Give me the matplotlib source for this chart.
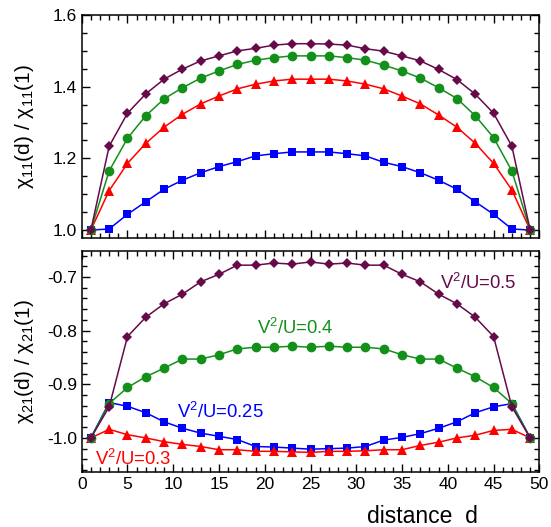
import matplotlib
matplotlib.use("Agg")
import matplotlib.pyplot as plt
from matplotlib.ticker import MultipleLocator

plt.rcParams['font.family'] = ['Liberation Sans', 'DejaVu Sans']
plt.rcParams['mathtext.fontset'] = 'custom'
plt.rcParams['mathtext.rm'] = 'Liberation Sans'
plt.rcParams['mathtext.it'] = 'Liberation Sans:italic'
plt.rcParams['mathtext.default'] = 'regular'

# data
# ----
d = [1, 3, 5, 7, 9, 11, 13, 15, 17, 19, 21, 23, 25,
     27, 29, 31, 33, 35, 37, 39, 41, 43, 45, 47, 49]

# chi_11(d)/chi_11(1)
top_05 = [1.0, 1.234, 1.326, 1.380, 1.421, 1.449, 1.472, 1.486, 1.500, 1.507, 1.516, 1.520, 1.520,
          1.519, 1.516, 1.506, 1.499, 1.486, 1.472, 1.448, 1.420, 1.379, 1.326, 1.234, 1.0]
top_04 = [1.0, 1.165, 1.256, 1.319, 1.366, 1.397, 1.424, 1.444, 1.462, 1.474, 1.481, 1.486, 1.486,
          1.486, 1.481, 1.474, 1.460, 1.444, 1.424, 1.397, 1.367, 1.319, 1.258, 1.165, 1.0]
top_03 = [1.0, 1.110, 1.186, 1.242, 1.287, 1.323, 1.352, 1.374, 1.394, 1.407, 1.416, 1.421, 1.421,
          1.421, 1.416, 1.407, 1.394, 1.374, 1.352, 1.321, 1.287, 1.242, 1.186, 1.112, 1.0]
top_025 = [1.0, 1.003, 1.044, 1.079, 1.114, 1.139, 1.160, 1.177, 1.191, 1.207, 1.213, 1.218, 1.218,
           1.218, 1.213, 1.207, 1.189, 1.177, 1.160, 1.139, 1.114, 1.079, 1.044, 1.003, 1.0]

# chi_21(d)/chi_21(1)
bot_05 = [-1.0, -0.942, -0.811, -0.775, -0.750, -0.732, -0.709, -0.695, -0.678, -0.678, -0.674, -0.676, -0.672,
          -0.676, -0.674, -0.678, -0.678, -0.695, -0.709, -0.732, -0.750, -0.775, -0.811, -0.942, -1.0]
bot_04 = [-1.0, -0.936, -0.906, -0.886, -0.870, -0.853, -0.853, -0.845, -0.834, -0.831, -0.831, -0.829, -0.831,
          -0.829, -0.831, -0.831, -0.834, -0.845, -0.853, -0.853, -0.870, -0.886, -0.906, -0.936, -1.0]
bot_03 = [-1.0, -0.984, -0.994, -1.000, -1.007, -1.012, -1.016, -1.022, -1.022, -1.025, -1.025, -1.026, -1.027,
          -1.025, -1.025, -1.024, -1.022, -1.022, -1.014, -1.008, -1.000, -0.995, -0.986, -0.984, -1.0]
bot_025 = [-1.0, -0.934, -0.941, -0.953, -0.970, -0.982, -0.991, -0.997, -1.003, -1.016, -1.017, -1.019, -1.021,
           -1.020, -1.019, -1.016, -1.004, -0.999, -0.992, -0.982, -0.970, -0.953, -0.942, -0.936, -1.0]

purple = '#660a4a'
green = '#12901a'
red = '#ff0000'
blue = '#0000ff'

# plot
# ----
fig = plt.figure(figsize=(5.51, 5.27), dpi=100)
ax1 = fig.add_axes([0.1483, 0.5478, 0.8305, 0.4237])
ax2 = fig.add_axes([0.1483, 0.1049, 0.8305, 0.4194])

series_top = [(top_025, blue, 's', 6), (top_03, red, '^', 6.5), (top_04, green, 'o', 7), (top_05, purple, 'D', 5.5)]
series_bot = [(bot_025, blue, 's', 6), (bot_03, red, '^', 6.5), (bot_04, green, 'o', 7), (bot_05, purple, 'D', 5.5)]

for ax, series in [(ax1, series_top), (ax2, series_bot)]:
    for vals, c, m, ms in series:
        ax.plot(d, vals, color=c, marker=m, markersize=ms, linewidth=1.1, markeredgewidth=0)
    ax.set_xlim(0, 50)
    ax.xaxis.set_major_locator(MultipleLocator(5))
    ax.xaxis.set_minor_locator(MultipleLocator(1))
    ax.tick_params(which='both', direction='in', top=True, right=True, labelsize=12.5)
    ax.tick_params(which='major', length=6, width=1)
    ax.tick_params(which='minor', length=3.5, width=1)
    for s in ax.spines.values():
        s.set_linewidth(1.1)

ax1.set_ylim(0.977, 1.6)
ax1.yaxis.set_major_locator(MultipleLocator(0.2))
ax1.yaxis.set_minor_locator(MultipleLocator(0.05))
ax1.yaxis.set_major_formatter(matplotlib.ticker.FormatStrFormatter('%.1f'))
ax1.tick_params(labelbottom=False)
ax1.set_ylabel('χ$_{11}$(d) / χ$_{11}$(1)', fontsize=15)

ax2.set_ylim(-1.063, -0.651)
ax2.yaxis.set_major_locator(MultipleLocator(0.1))
ax2.yaxis.set_minor_locator(MultipleLocator(0.02))
ax2.yaxis.set_major_formatter(matplotlib.ticker.FormatStrFormatter('%.1f'))
ax2.set_ylabel('χ$_{21}$(d) / χ$_{21}$(1)', fontsize=15)

ax1.yaxis.set_label_coords(-0.1, 0.5)
ax2.yaxis.set_label_coords(-0.1, 0.5)

ax2.text(39.2, -0.722, 'V$^2$/U=0.5', color=purple, fontsize=13.3)
ax2.text(19.1, -0.806, 'V$^2$/U=0.4', color=green, fontsize=13.3)
ax2.text(10.4, -0.9625, 'V$^2$/U=0.25', color=blue, fontsize=13.3)
ax2.text(1.45, -1.050, 'V$^2$/U=0.3', color=red, fontsize=13.3)

fig.text(0.767, 0.008, 'distance  d', fontsize=16.5, ha='center')

fig.savefig('out.png', dpi=100)
